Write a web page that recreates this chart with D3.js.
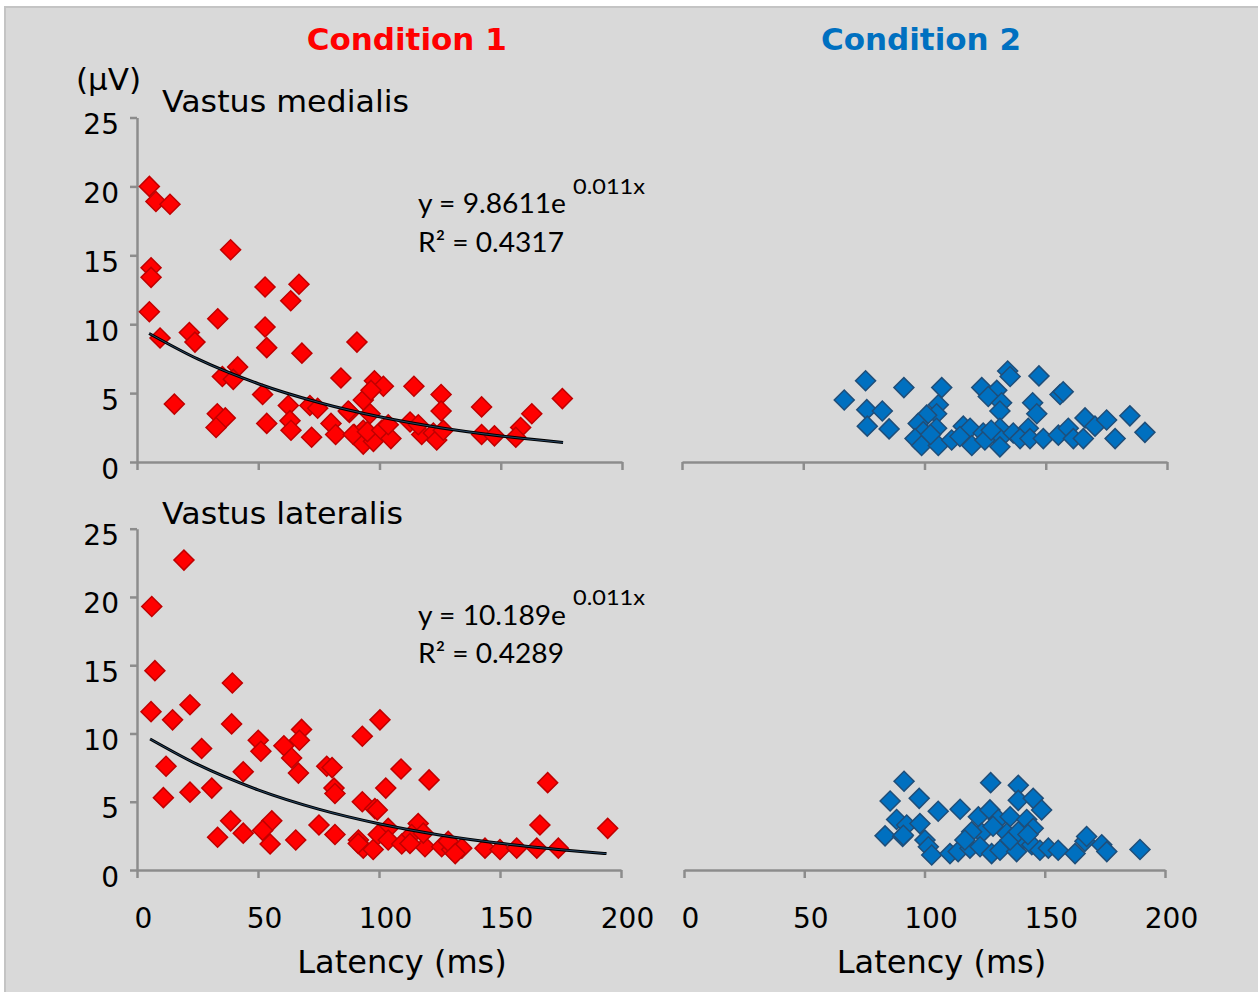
<!DOCTYPE html>
<html>
<head>
<meta charset="utf-8">
<script src="https://cdn.jsdelivr.net/npm/d3@7"></script>
<style>
  body { margin: 0; background: white; }
  .axis path, .axis line { stroke: #8c8c8c; stroke-width: 2.5; }
  .axis text { font-family: "DejaVu Sans", sans-serif; font-size: 28px; fill: black; }
  .lbl { font-family: "DejaVu Sans", sans-serif; }
  .eq { font-family: Lato, "Open Sans", sans-serif; fill: black; }
</style>
</head>
<body>
<div id="wykres"></div>
<script>

// [latency ms, amplitude µV]
var vmCond1 = [[5.1,20.0],[7.8,18.9],[13.6,18.7],[38.6,15.4],[5.8,14.1],[5.8,13.4],[52.8,12.7],[66.8,12.9],
  [63.4,11.7],[5.1,10.9],[33.3,10.4],[52.8,9.8],[53.5,8.3],[68.0,7.9],[9.5,9.0],[21.6,9.4],[23.9,8.7],
  [90.7,8.7],[15.4,4.2],[33.1,3.5],[36.4,3.2],[32.6,2.5],[41.5,6.9],[35.2,6.2],[39.7,6.0],[51.8,4.9],
  [53.5,2.8],[62.4,4.1],[63.1,3.0],[63.5,2.3],[71.3,4.1],[74.5,3.9],[72.0,1.8],[84.1,6.1],[80.0,2.8],
  [81.9,2.0],[87.6,3.6],[89.6,2.0],[93.3,4.5],[97.9,5.9],[101.6,5.5],[114.2,5.5],[125.4,4.9],[125.4,3.7],
  [142.1,4.0],[175.4,4.6],[162.8,3.5],[158.2,2.5],[156.2,1.8],[96.1,3.5],[87.1,3.7],[93.3,2.3],[89.2,2.0],
  [93.3,1.3],[97.5,1.5],[95.0,2.2],[100.9,2.3],[104.7,1.7],[103.6,2.7],[112.6,2.9],[117.4,2.0],[122.2,2.1],
  [123.6,1.6],[126.3,2.3],[142.1,2.0],[147.4,1.9],[116.0,2.7],[96.5,5.2]];

var vlCond1 = [[19.4,22.7],[6.1,19.3],[7.4,14.6],[39.4,13.7],[5.8,11.6],[14.7,11.0],[21.9,12.1],[39.1,10.7],
  [26.7,8.9],[12.0,7.6],[10.9,5.3],[21.9,5.7],[30.9,6.0],[43.9,7.2],[50.1,9.5],[51.2,8.7],[60.7,9.1],
  [63.9,8.2],[68.0,10.3],[67.1,9.5],[66.7,7.1],[78.4,7.6],[80.6,7.5],[81.4,6.0],[81.8,5.6],[93.1,9.8],
  [38.7,3.6],[33.3,2.4],[43.9,2.7],[55.7,3.6],[51.9,2.9],[55.0,1.9],[65.6,2.2],[75.2,3.3],[81.8,2.6],
  [93.1,5.0],[91.5,2.2],[93.5,1.6],[98.3,4.5],[100.4,11.0],[109.1,7.4],[120.7,6.6],[102.8,6.0],[99.3,4.4],
  [169.7,6.4],[166.5,3.3],[194.5,3.05],[116.2,3.4],[103.8,3.05],[91.4,1.95],[97.6,1.5],[99.7,2.6],
  [103.8,2.2],[109.4,1.9],[113.5,2.6],[119.0,1.7],[118.3,2.7],[125.9,1.7],[130.0,1.5],[134.2,1.6],
  [143.8,1.6],[150.0,1.5],[156.9,1.6],[165.2,1.6],[174.1,1.6],[112.8,1.95],[128.6,2.1],[131.5,1.2]];

var vmCond2 = [[75.7,5.9],[66.9,4.5],[76.2,3.8],[82.6,3.7],[76.4,2.6],[85.4,2.4],[91.5,5.4],[107.1,5.4],
  [134.3,6.6],[135.3,6.2],[147.2,6.25],[123.6,5.4],[129.8,5.2],[126.3,4.75],[131.8,4.3],[131.1,3.7],
  [155.9,4.9],[157.2,5.1],[144.6,4.3],[146.3,3.5],[105.7,4.15],[105.0,3.5],[100.9,3.4],[97.4,2.8],
  [105.0,2.45],[99.5,2.2],[96.1,1.7],[98.8,1.2],[105.7,1.2],[111.2,1.6],[116.0,2.6],[118.8,2.45],
  [114.6,1.85],[119.5,1.2],[124.2,2.1],[131.1,2.45],[131.1,1.7],[131.1,1.1],[136.6,2.1],[142.8,2.45],
  [139.4,1.7],[143.5,1.7],[149.0,1.7],[155.2,1.95],[159.3,2.45],[161.4,1.7],[166.2,3.2],[165.5,1.7],
  [170.3,2.6],[175.1,3.05],[184.7,3.35],[178.6,1.7],[190.9,2.15],[124.9,1.6],[127.5,2.3],[102.5,2.0]];

var vlCond2 = [[91.5,6.5],[85.7,5.05],[88.4,3.7],[83.6,2.5],[90.9,2.45],[92.6,3.3],[127.5,6.4],[139.0,6.2],
  [139.0,5.1],[145.2,5.25],[148.7,4.4],[97.8,5.25],[105.7,4.3],[114.8,4.45],[122.4,3.9],[127.2,4.4],
  [130.7,3.7],[135.6,3.9],[142.5,3.7],[145.2,3.05],[98.1,3.4],[91.2,2.55],[100.2,2.2],[101.6,1.7],
  [103.0,1.1],[110.6,1.2],[114.0,1.35],[118.9,1.6],[123.8,2.7],[123.1,1.7],[127.9,1.2],[131.4,1.45],
  [134.2,2.7],[138.3,1.35],[141.1,2.3],[144.6,1.85],[148.0,1.45],[151.5,1.6],[155.6,1.45],[162.6,1.2],
  [166.7,2.1],[167.4,2.45],[173.7,1.85],[175.8,1.35],[189.6,1.5],[119.6,2.8],[116.8,2.2],[135.6,2.2],
  [139.0,2.8],[128.5,3.2],[143.0,2.6]];

// trend curves
var vmTrend = [[5,9.33],[25,7.48],[50,5.68],[75,4.32],[100,3.28],[125,2.49],[150,1.89],[175.7,1.42]];
var vlTrend = [[5.4,9.6],[25,7.73],[50,5.87],[75,4.46],[100,3.39],[125,2.57],[150,1.96],[175,1.49],[194,1.2]];

var xTicks = [0, 50, 100, 150, 200];
var yTicks = [0, 5, 10, 15, 20, 25];
var titles = ["Condition 1", "Condition 2"];
var muscles = ["Vastus medialis", "Vastus lateralis"];
var equations = [["y = 9.8611e", "0.011x", "R² = 0.4317"], ["y = 10.189e", "0.011x", "R² = 0.4289"]];

var svg = d3.select("#wykres")
  .append("svg")
  .attr("width", 1258)
  .attr("height", 992);

svg.append("rect")
  .attr("x", 5).attr("y", 7)
  .attr("width", 1270).attr("height", 1000)
  .attr("fill", "#d9d9d9")
  .attr("stroke", "#c4c4c4")
  .attr("stroke-width", 2);

var yTop = d3.scaleLinear().domain([0, 25]).range([462, 117.5]);
var yBot = d3.scaleLinear().domain([0, 25]).range([870, 528.7]);

var panels = [
  { data: vmCond1, trend: vmTrend, eq: equations[0], x: d3.scaleLinear().domain([0, 200]).range([137, 622]), y: yTop, yAxis: true, labels: false, fill: "#ff0000", stroke: "#c00000" },
  { data: vlCond1, trend: vlTrend, eq: equations[1], x: d3.scaleLinear().domain([0, 200]).range([137, 621]), y: yBot, yAxis: true, labels: true, fill: "#ff0000", stroke: "#c00000" },
  { data: vmCond2, x: d3.scaleLinear().domain([0, 200]).range([682, 1167]), y: yTop, yAxis: false, labels: false, fill: "#0070c0", stroke: "#1f4e79" },
  { data: vlCond2, x: d3.scaleLinear().domain([0, 200]).range([684, 1165]), y: yBot, yAxis: false, labels: true, fill: "#0070c0", stroke: "#1f4e79" }
];

var diamond = d3.symbol().type(d3.symbolSquare).size(200);

panels.forEach(function (p) {
  var g = svg.append("g");

  var xa = g.append("g")
    .attr("class", "axis")
    .attr("transform", "translate(0," + p.y(0) + ")")
    .call(d3.axisBottom(p.x).tickValues(xTicks).tickSize(8).tickSizeOuter(0)
      .tickFormat(p.labels ? d3.format("d") : ""));
  xa.selectAll("text").attr("y", 58).attr("dy", 0).attr("dx", 6);

  if (p.yAxis) {
    var ya = g.append("g")
      .attr("class", "axis")
      .attr("transform", "translate(" + p.x(0) + ",0)")
      .call(d3.axisLeft(p.y).tickValues(yTicks).tickSize(7).tickSizeOuter(0));
    ya.selectAll("text").attr("x", -18).attr("dy", 0).attr("y", 16);
  }

  g.append("g")
    .selectAll("path")
    .data(p.data)
    .enter().append("path")
    .attr("d", diamond)
    .attr("transform", d => "translate(" + p.x(d[0]) + "," + p.y(d[1]) + ")rotate(45)")
    .attr("fill", p.fill)
    .attr("stroke", p.stroke)
    .attr("stroke-width", 1.5);

  if (p.trend) {
    var line = d3.line()
      .x(d => p.x(d[0]))
      .y(d => p.y(d[1]))
      .curve(d3.curveMonotoneX);
    g.append("path").datum(p.trend)
      .attr("d", line).attr("fill", "none")
      .attr("stroke", "black").attr("stroke-width", 3);
    g.append("path").datum(p.trend)
      .attr("d", line).attr("fill", "none")
      .attr("stroke", "#3f74a8").attr("stroke-width", 1).attr("opacity", 0.6);

    var base = p.y(25) - 117.5 + 213.3;
    g.append("text").attr("class", "eq")
      .attr("x", 418).attr("y", base)
      .attr("font-size", 26).attr("textLength", 148).attr("lengthAdjust", "spacingAndGlyphs")
      .text(p.eq[0]);
    g.append("text").attr("class", "eq")
      .attr("x", 573).attr("y", base - 19.5)
      .attr("font-size", 22).attr("textLength", 72).attr("lengthAdjust", "spacingAndGlyphs")
      .text(p.eq[1]);
    g.append("text").attr("class", "eq")
      .attr("x", 418).attr("y", base + 38.5)
      .attr("font-size", 26).attr("textLength", 146).attr("lengthAdjust", "spacingAndGlyphs")
      .text(p.eq[2]);
  }
});

svg.append("text")
  .attr("class", "lbl")
  .attr("x", 406.7).attr("y", 50)
  .attr("text-anchor", "middle")
  .attr("font-size", 31).attr("font-weight", "bold")
  .style("fill", "#ff0000")
  .text(titles[0]);

svg.append("text")
  .attr("class", "lbl")
  .attr("x", 921).attr("y", 50)
  .attr("text-anchor", "middle")
  .attr("font-size", 31).attr("font-weight", "bold")
  .style("fill", "#0070c0")
  .text(titles[1]);

svg.append("text")
  .attr("class", "lbl")
  .attr("x", 108.5).attr("y", 90)
  .attr("text-anchor", "middle")
  .attr("font-size", 31)
  .text("(µV)");

svg.append("text")
  .attr("class", "lbl")
  .attr("x", 162).attr("y", 111.7)
  .attr("font-size", 31).attr("textLength", 247).attr("lengthAdjust", "spacingAndGlyphs")
  .text(muscles[0]);

svg.append("text")
  .attr("class", "lbl")
  .attr("x", 162).attr("y", 524)
  .attr("font-size", 31).attr("textLength", 241).attr("lengthAdjust", "spacingAndGlyphs")
  .text(muscles[1]);

[402, 941.5].forEach(function (cx) {
  svg.append("text")
    .attr("class", "lbl")
    .attr("x", cx).attr("y", 972.7)
    .attr("text-anchor", "middle")
    .attr("font-size", 32)
    .text("Latency (ms)");
});

</script>
</body>
</html>
